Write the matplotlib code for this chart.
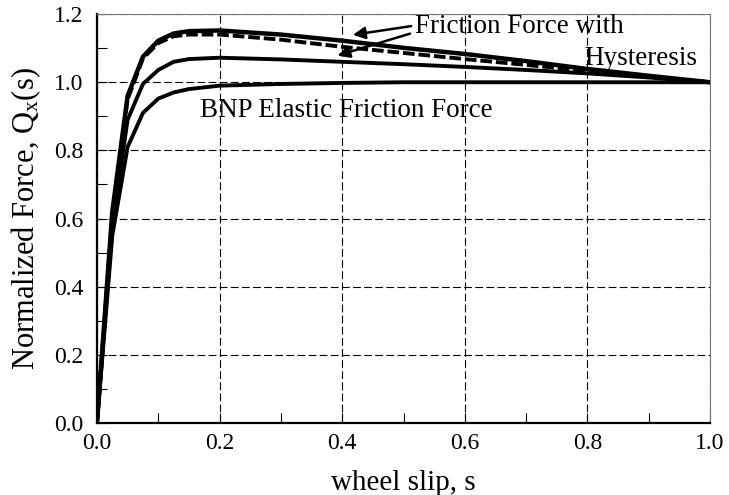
import numpy as np
import matplotlib
matplotlib.use("Agg")
import matplotlib.pyplot as plt
from matplotlib.ticker import MultipleLocator

plt.rcParams['font.family'] = ['Liberation Serif', 'DejaVu Serif']
plt.rcParams['mathtext.fontset'] = 'custom'
plt.rcParams['mathtext.rm'] = 'Liberation Serif'
plt.rcParams['mathtext.it'] = 'Liberation Serif:italic'

# wheel slip values
slip = [0.0, 0.025, 0.05, 0.075, 0.1, 0.125, 0.15, 0.2, 0.3, 0.4, 0.5, 0.6, 0.7, 0.8, 0.9, 1.0]

# normalized force curves
hyst_top = [0.0, 0.62, 0.96, 1.075, 1.122, 1.143, 1.15, 1.152, 1.14, 1.122, 1.101, 1.083, 1.062, 1.039, 1.019, 1.0]
hyst_dash = [0.0, 0.61, 0.95, 1.07, 1.115, 1.135, 1.14, 1.14, 1.125, 1.104, 1.086, 1.068, 1.051, 1.033, 1.016, 1.0]
hyst_mid = [0.0, 0.58, 0.89, 0.995, 1.036, 1.06, 1.068, 1.072, 1.067, 1.06, 1.053, 1.045, 1.036, 1.026, 1.014, 1.0]
bnp_elastic = [0.0, 0.55, 0.81, 0.91, 0.952, 0.97, 0.98, 0.99, 0.995, 0.998, 1.0, 1.0, 1.0, 1.0, 1.0, 1.0]

fig = plt.figure(figsize=(7.29, 4.95), dpi=100)
ax = fig.add_axes([0.133, 0.1455, 0.841, 0.826])

ax.plot(slip, hyst_top, color='black', lw=3.2)
ax.plot(slip, hyst_dash, color='black', lw=2.8, dashes=(3.0, 1.0))
ax.plot(slip, hyst_mid, color='black', lw=2.8)
ax.plot(slip, bnp_elastic, color='black', lw=2.8)

ax.set_xlim(0, 1.0)
ax.set_ylim(0, 1.2)
ax.xaxis.set_major_locator(MultipleLocator(0.2))
ax.xaxis.set_minor_locator(MultipleLocator(0.1))
ax.yaxis.set_major_locator(MultipleLocator(0.2))
ax.yaxis.set_minor_locator(MultipleLocator(0.1))
ax.xaxis.set_major_formatter(plt.FormatStrFormatter('%.1f'))
ax.yaxis.set_major_formatter(plt.FormatStrFormatter('%.1f'))
ax.tick_params(which='both', direction='in', labelsize=17, color='black')
ax.tick_params(which='major', length=7, width=0.8)
ax.tick_params(which='minor', length=7, width=0.8)
ax.tick_params(axis='x', pad=7)
ax.tick_params(axis='y', pad=10)
ax.grid(True, which='major', color='black', linestyle=(0, (7, 3)), linewidth=0.8)

for side in ['left', 'bottom']:
    ax.spines[side].set_linewidth(1.6)
for side in ['top', 'right']:
    ax.spines[side].set_linewidth(0.8)
    ax.spines[side].set_color('#777777')

ax.set_xlabel('wheel slip, s', fontsize=21, labelpad=12)
ax.set_ylabel(r'Normalized Force, Q$_\mathrm{x}$(s)', fontsize=22, labelpad=8)

ax.text(0.519, 1.144, 'Friction Force with', fontsize=19.5, ha='left', va='baseline')
ax.text(0.979, 1.05, 'Hysteresis', fontsize=19.5, ha='right', va='baseline')
ax.text(0.168, 0.898, 'BNP Elastic Friction Force', fontsize=19.5, ha='left', va='baseline')

arrow = dict(arrowstyle='-|>', color='black', lw=1.8, mutation_scale=18)
ax.annotate('', xy=(0.413, 1.138), xytext=(0.517, 1.166), arrowprops=arrow)
ax.annotate('', xy=(0.388, 1.076), xytext=(0.515, 1.145), arrowprops=arrow)

fig.savefig('out.png', dpi=100)
